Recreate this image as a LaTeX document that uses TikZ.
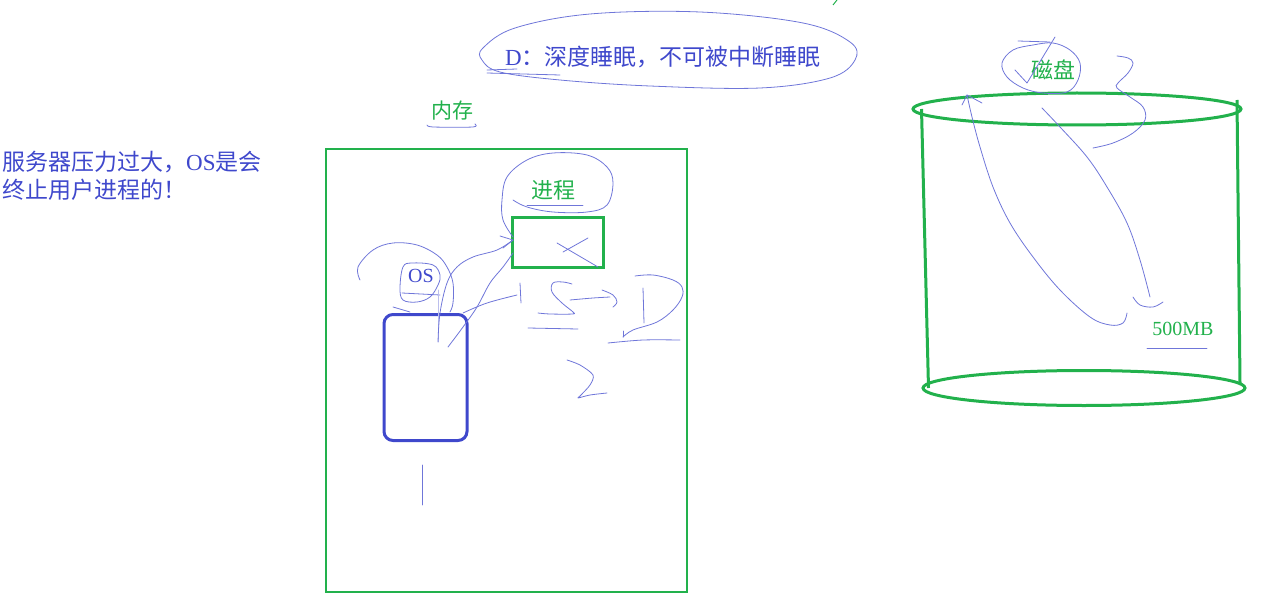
\documentclass[tikz,border=0pt]{standalone}
\usepackage{fontspec}
\setmainfont{Liberation Serif}
\newfontfamily\cjk{Noto Sans CJK SC}
\usetikzlibrary{arrows.meta, calc, positioning, shapes.geometric}
\definecolor{paintgreen}{HTML}{22B14C}
\definecolor{inkblue}{HTML}{3F48CC}
\tikzset{
  memframe/.style ={draw=paintgreen, line width=2.5pt, inner sep=0pt},
  procbox/.style  ={draw=paintgreen, line width=3pt, inner sep=0pt},
  osbox/.style    ={draw=inkblue, line width=3pt, rounded corners=9pt, inner sep=0pt},
  diskend/.style  ={draw=paintgreen, ellipse, line width=3pt, inner sep=0pt},
  diskside/.style ={draw=paintgreen, line width=3pt},
  glabel/.style   ={text=paintgreen, font=\cjk\fontsize{21}{24}\selectfont, inner sep=1pt},
  blabel/.style   ={text=inkblue, font=\cjk\fontsize{23}{28}\selectfont, inner sep=1pt},
  scrib/.style    ={draw=inkblue!75, line width=0.8pt, line cap=round, line join=round},
  faint/.style    ={draw=inkblue!35, line width=0.8pt, line cap=round},
}

\begin{document}
\begin{tikzpicture}[x=1pt, y=-1pt]
  \useasboundingbox (0,0) rectangle (1261,607);
  % text notes
  \node[blabel, anchor=west, align=left] (stress) at (1,176)
    {服务器压力过大，{\rmfamily OS}是会\\终止用户进程的！};
  \node[blabel, font=\cjk\fontsize{23}{28}\selectfont] (dsleep) at (663,57)
    {{\rmfamily D}：深度睡眠，不可被中断睡眠};
  % memory, process, os
  \node[memframe, minimum width=361pt, minimum height=443pt] (mem) at (506.5,370.5) {};
  \node[glabel] (memlbl) at (452,111) {内存};
  \node[procbox, minimum width=91pt, minimum height=50pt] (proc) at (557.5,242) {};
  \node[glabel, font=\cjk\fontsize{22}{24}\selectfont] (proclbl) at (553,190) {进程};
  \node[osbox, minimum width=83pt, minimum height=126pt] (os) at (425.5,377.5) {};
  \node[blabel, font=\rmfamily\fontsize{20}{24}\selectfont] (oslbl) at (421,276) {OS};
  % disk
  \node[diskend, minimum width=328pt, minimum height=32pt] (disktop) at (1077,109) {};
  \node[diskend, minimum width=322pt, minimum height=35pt] (diskbot) at (1084,388) {};
  \draw[diskside] ([xshift=10pt]disktop.west) -- ([xshift=7pt]diskbot.west);
  \draw[diskside] (1237,100) -- (1240,383);
  \node[glabel, font=\cjk\fontsize{22}{24}\selectfont] (disklbl) at (1053,70) {磁盘};
  \node[glabel, font=\rmfamily\fontsize{20}{24}\selectfont] (sizelbl) at (1183,329) {500MB};

  % pen strokes
  \draw[scrib] plot[smooth cycle, tension=0.6] coordinates {(483,48) (515,28) (590,14) (700,12) (803,23) (850,42) (855,60) (830,78) (760,88) (650,86) (560,80) (500,72) (482,60)};
  \draw[scrib] (487,70) -- (517,69);
  \draw[scrib] (487,73) -- (560,75);
  \draw[paintgreen, line width=1pt] (833,5) -- (837,0);
  \draw[scrib] plot[smooth, tension=0.5] coordinates {(427,125) (433,127) (473,127) (475,124)};
  % around process
  \draw[scrib] plot[smooth, tension=0.6] coordinates {(513,200) (527,207) (553,212) (587,212) (607,205) (613,183) (607,167) (587,155) (553,153) (527,160) (507,177) (502,200) (503,220) (513,237)};
  \draw[scrib] (527,205) -- (583,205);
  \draw[scrib] (557,243) -- (598,267);
  \draw[scrib] (563,252) -- (588,238);
  % around os
  \draw[scrib] plot[smooth, tension=0.6] coordinates {(360,280) (358,267) (373,250) (393,243) (417,245) (437,255) (447,267) (453,283) (453,303) (450,312)};
  \draw[scrib] plot[smooth cycle, tension=0.6] coordinates {(403,267) (412,263) (433,265) (440,275) (438,285) (430,297) (417,302) (403,300) (400,288)};
  \draw[scrib] (402,293) -- (440,295);
  \draw[scrib] (393,307) -- (410,312);
  \draw[faint] (438,290) -- (438,342);
  \draw[scrib] plot[smooth, tension=0.6] coordinates {(438,342) (440,313) (447,283) (457,267) (473,257) (497,250) (513,240)};
  \draw[scrib] plot[smooth, tension=0.6] coordinates {(448,347) (463,327) (477,307) (490,283) (503,267) (513,253)};
  \draw[scrib] (500,236) -- (513,240) -- (503,248);
  \draw[scrib] plot[smooth, tension=0.6] coordinates {(463,313) (487,303) (517,295)};
  \draw[scrib] (520,283) -- (521,303);
  \draw[scrib] (422,465) -- (422,505);
  % S -> D
  \draw[scrib] plot[smooth, tension=0.6] coordinates {(572,284) (563,282) (553,283) (552,292) (562,303) (573,312) (572,314) (550,314) (538,313)};
  \draw[scrib] plot[smooth, tension=0.5] coordinates {(570,300) (593,298) (610,297)};
  \draw[scrib] plot[smooth, tension=0.6] coordinates {(602,290) (613,295) (617,302) (613,307)};
  \draw[scrib] (643,288) -- (644,323);
  \draw[scrib] plot[smooth, tension=0.6] coordinates {(635,276) (653,275) (673,280) (682,287) (682,297) (673,310) (657,322) (633,330) (623,337)};
  \draw[scrib] (623,331) -- (623,337);
  \draw[scrib] plot[smooth, tension=0.5] coordinates {(608,343) (643,340) (680,340)};
  \draw[scrib] (528,328) -- (578,329);
  \draw[scrib] plot[smooth, tension=0.5] coordinates {(567,360) (580,365) (593,375) (590,385) (580,396) (578,398) (590,395) (607,393)};
  % disk strokes
  \draw[scrib] plot[smooth cycle, tension=0.6] coordinates {(1033,45) (1013,50) (1002,63) (1007,77) (1023,88) (1043,93) (1067,92) (1078,80) (1080,63) (1070,50) (1053,43)};
  \draw[scrib] (1018,41) -- (1050,42);
  \draw[scrib] (1055,37) -- (1027,83) -- (1015,70);
  \draw[scrib] plot[smooth, tension=0.6] coordinates {(1117,56) (1128,58) (1133,63) (1128,73) (1118,83) (1117,88) (1130,97) (1143,107) (1145,120) (1133,133) (1113,143) (1093,148)};
  \draw[scrib] plot[smooth, tension=0.6] coordinates {(1042,108) (1060,127) (1087,157) (1107,187) (1127,223) (1140,260) (1150,297)};
  \draw[scrib] plot[smooth, tension=0.6] coordinates {(1133,297) (1140,305) (1153,307) (1163,302)};
  \draw[scrib] plot[smooth, tension=0.6] coordinates {(1127,313) (1123,323) (1110,325) (1090,317) (1060,290) (1033,257) (1010,223) (993,187) (980,147) (972,117) (967,95)};
  \draw[scrib] (962,105) -- (967,95) -- (982,103);
  \draw[scrib] (1147,348) -- (1207,348);
\end{tikzpicture}
\end{document}
